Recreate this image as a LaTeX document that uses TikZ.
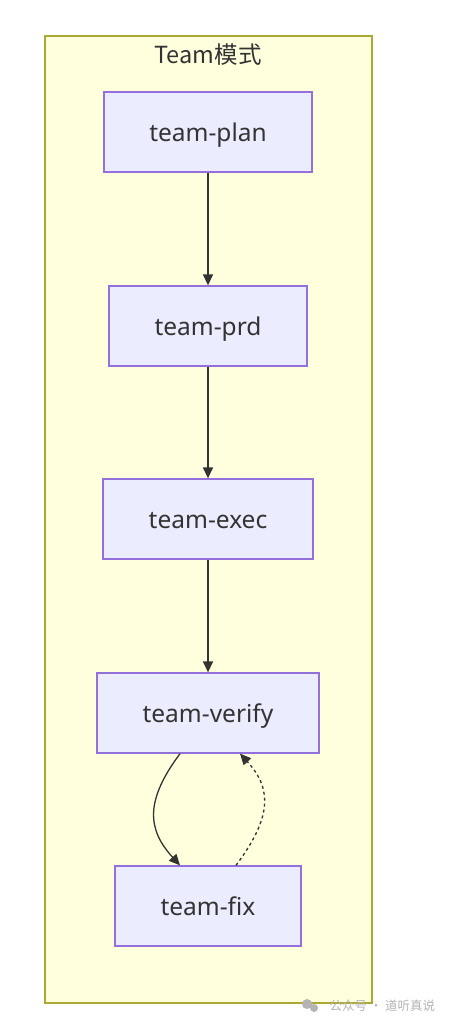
\documentclass[tikz,border=0pt]{standalone}
\usepackage{fontspec}
\setmainfont{Noto Sans}
\newfontfamily\cjkfont{Noto Sans CJK SC}
\usetikzlibrary{arrows.meta}
\definecolor{boxfill}{HTML}{ECECFF}
\definecolor{boxline}{HTML}{9370DB}
\definecolor{groupfill}{HTML}{FFFFDE}
\definecolor{groupline}{HTML}{AAAA33}
\definecolor{ink}{HTML}{333333}
\definecolor{markgray}{HTML}{B4B4B4}
\begin{document}
\begin{tikzpicture}[x=1pt,y=-1pt,
  stage/.style={draw=boxline,fill=boxfill,line width=1.3pt,minimum height=80pt,inner sep=0pt,
    text=ink,font=\fontsize{24.5}{28}\selectfont,text height=20pt,text depth=2pt},
  flow/.style={draw=ink,line width=1.3pt,-{Triangle[length=11pt,width=10pt]}}]
\useasboundingbox[fill=white] (0,0) rectangle (450,1025);
\node[draw=groupline,fill=groupfill,line width=1.3pt,minimum width=327pt,minimum height=967pt,inner sep=0pt] (mode) at (208.5,519.5) {};
\node[text=ink,font=\cjkfont\fontsize{23.5}{27}\selectfont] (title) at (208,55) {Team模式};
\node[stage,minimum width=208pt] (plan) at (208,132) {team-plan};
\node[stage,minimum width=198pt] (prd) at (208,326) {team-prd};
\node[stage,minimum width=210pt] (exec) at (208,519) {team-exec};
\node[stage,minimum width=222pt] (verify) at (208,713) {team-verify};
\node[stage,minimum width=186pt] (fix) at (208,906) {team-fix};
\draw[flow] (plan) -- (prd);
\draw[flow] (prd) -- (exec);
\draw[flow] (exec) -- (verify);
\draw[flow] ([xshift=-28pt]verify.south) .. controls +(-35,47) and +(-33,-36) .. ([xshift=-28pt]fix.north);
\draw[flow,dash pattern=on 3pt off 3pt] ([xshift=28pt]fix.north) .. controls +(35,-47) and +(33,36) .. ([xshift=32pt]verify.south);
% watermark
\fill[markgray] (307,1004) circle (5pt) (314,1008) circle (4pt);
\node[text=markgray,font=\cjkfont\fontsize{12.5}{14}\selectfont,anchor=west] (mark) at (326,1006) {公众号 · 道听真说};
\end{tikzpicture}
\end{document}
